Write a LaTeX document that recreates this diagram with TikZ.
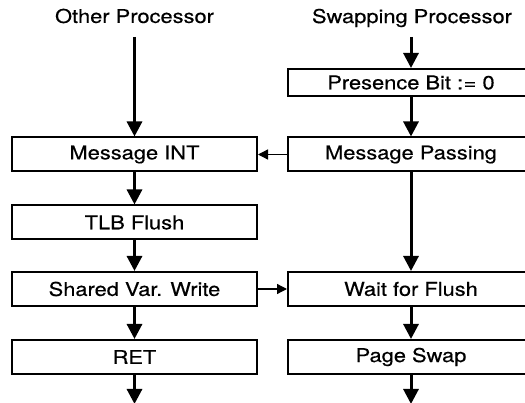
\documentclass[tikz,border=0pt]{standalone}
\usepackage{fontspec}
\setmainfont{TeX Gyre Heros}[FakeStretch=1.15,FakeBold=0.4]
\usetikzlibrary{arrows.meta}
\begin{document}
\begin{tikzpicture}[x=1pt,y=-1pt,
  every node/.style={font=\fontsize{19}{21}\selectfont},
  box/.style={draw, line width=2pt, minimum width=245pt, minimum height=34pt, inner sep=0pt},
  bigarrow/.style={line width=3pt, -{Triangle[length=15pt,width=15pt]}},
  smallarrow/.style={line width=1.3pt, -{Triangle[length=10pt,width=10pt]}},
  title/.style={inner sep=0pt}]
\clip (0,0) rectangle (525,403);
\fill[white] (0,0) rectangle (525,403);
% titles
\node[title] (t1) at (134.5,16) {Other Processor};
\node[title] (t2) at (412,18) {Swapping Processor};
\coordinate (s1) at (134.5,37);
\coordinate (s2) at (411,37);
% left column
\node[box] (int) at (134.5,154.5) {Message INT};
\node[box] (tlb) at (134.5,222.5) {TLB Flush};
\node[box] (svw) at (134.5,289) {Shared Var. Write};
\node[box] (ret) at (134.5,357) {RET};
\coordinate (e1) at (134.5,404);
% right column
\node[box, minimum width=246pt, minimum height=27pt] (pb) at (411,82.5) {Presence Bit :\kern0.5pt= 0};
\node[box, minimum width=246pt] (mp) at (411,154.5) {Message Passing};
\node[box, minimum width=246pt] (wff) at (411,289) {Wait for Flush};
\node[box, minimum width=246pt] (ps) at (411,357) {Page Swap};
\coordinate (e2) at (411,404);
% vertical arrows
\draw[bigarrow] (s1) -- (int.north);
\draw[bigarrow] (int.south) -- (tlb.north);
\draw[bigarrow] (tlb.south) -- (svw.north);
\draw[bigarrow] (svw.south) -- (ret.north);
\draw[bigarrow] (ret.south) -- (e1);
\draw[bigarrow] (s2) -- (pb.north);
\draw[bigarrow] (pb.south) -- (mp.north);
\draw[bigarrow] (mp.south) -- (wff.north);
\draw[bigarrow] (wff.south) -- (ps.north);
\draw[bigarrow] (ps.south) -- (e2);
% horizontal arrows
\draw[smallarrow] (mp.west) -- (int.east);
\draw[smallarrow] (svw.east) -- (wff.west);
\end{tikzpicture}
\end{document}
